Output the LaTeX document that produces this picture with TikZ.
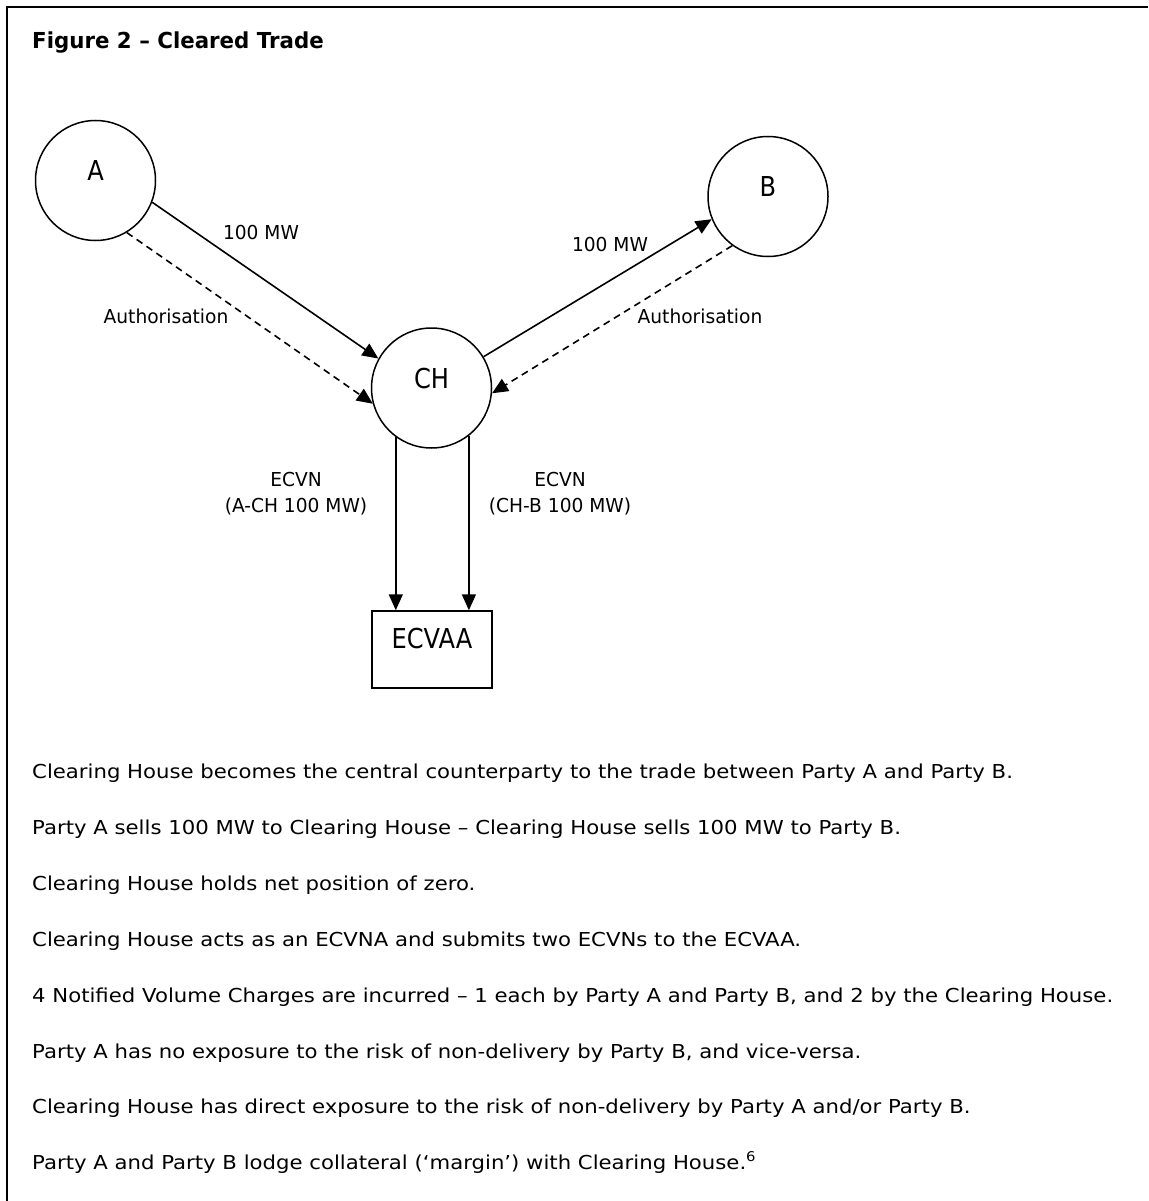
\documentclass[tikz,border=0pt]{standalone}
\usepackage{fontspec}
\setmainfont{DejaVu Sans}[FakeStretch=1.105]
\newfontfamily\labelfont{DejaVu Sans}[FakeStretch=0.97, Ligatures=TeX]
\newfontfamily\capsfont{DejaVu Sans}[FakeStretch=0.88]
\usepackage{tikz}
\usetikzlibrary{arrows.meta, calc}

\tikzset{
  party/.style={circle, draw, line width=1.5pt, minimum size=120pt, inner sep=0pt,
    font=\capsfont\fontsize{27.4}{30}\selectfont, text height=20pt, text depth=20pt},
  agency/.style={rectangle, draw, line width=1.5pt, minimum width=120pt, minimum height=77pt,
    inner sep=0pt, font=\capsfont\fontsize{27.4}{30}\selectfont, text height=20pt, text depth=23pt},
  flow/.style={line width=1.6pt, -{Triangle[length=16pt, width=14pt]}},
  auth/.style={flow, dash pattern=on 7pt off 5pt},
  txt/.style={font=\labelfont\fontsize{19.2}{26}\selectfont, inner sep=0pt},
  note/.style={font=\fontsize{19.2}{26}\selectfont, inner sep=0pt, anchor=base west},
}

\begin{document}
\begin{tikzpicture}[x=1pt, y=-1pt]
    \useasboundingbox (0,0) rectangle (1148,1201);
    \draw[line width=2.5pt] (1148,7) -- (7,7) -- (7,1201);

    \node[anchor=base west, inner sep=0pt, font=\labelfont\fontsize{22}{26}\selectfont\bfseries] (title) at (32,49) {Figure 2 -- Cleared Trade};

    \node[party] (A) at (95.5,180.5) {A};
    \node[party] (B) at (768,196.5) {B};
    \node[party] (CH) at (431.5,388) {CH};
    \node[agency] (ECVAA) at (432,649.5) {ECVAA};

    % trades and authorisations
    \draw[flow] (A.-21) -- (CH.151);
    \draw[auth] (A.-59) -- (CH.-165);
    \draw[flow] (CH.31) -- (B.-158);
    \draw[auth] (B.-126) -- (CH.-5);

    \node[txt, anchor=base] (mwA) at (261,239) {100 MW};
    \node[txt, anchor=base] (mwB) at (610,251) {100 MW};
    \node[txt, anchor=base] (authA) at (166,323) {Authorisation};
    \node[txt, anchor=base] (authB) at (700,323) {Authorisation};

    % notifications
    \draw[flow] (CH.-126) -- (CH.-126 |- ECVAA.north);
    \draw[flow] (CH.-52.5) -- (CH.-52.5 |- ECVAA.north);

    \node[txt, align=center] (ecvnA) at (296,494) {ECVN\\(A-CH 100 MW)};
    \node[txt, align=center] (ecvnB) at (560,494) {ECVN\\(CH-B 100 MW)};

    \node[note] (n1) at (32,778) {Clearing House becomes the central counterparty to the trade between Party A and Party B.};
    \node[note] (n2) at (32,834) {Party A sells 100 MW to Clearing House -- Clearing House sells 100 MW to Party B.};
    \node[note] (n3) at (32,890) {Clearing House holds net position of zero.};
    \node[note] (n4) at (32,946) {Clearing House acts as an ECVNA and submits two ECVNs to the ECVAA.};
    \node[note] (n5) at (32,1002) {4 Notified Volume Charges are incurred -- 1 each by Party A and Party B, and 2 by the Clearing House.};
    \node[note] (n6) at (32,1058) {Party A has no exposure to the risk of non-delivery by Party B, and vice-versa.};
    \node[note] (n7) at (32,1113) {Clearing House has direct exposure to the risk of non-delivery by Party A and/or Party B.};
    \node[note] (n8) at (32,1169) {Party A and Party B lodge collateral (`margin') with Clearing House.\textsuperscript{6}};
\end{tikzpicture}
\end{document}
